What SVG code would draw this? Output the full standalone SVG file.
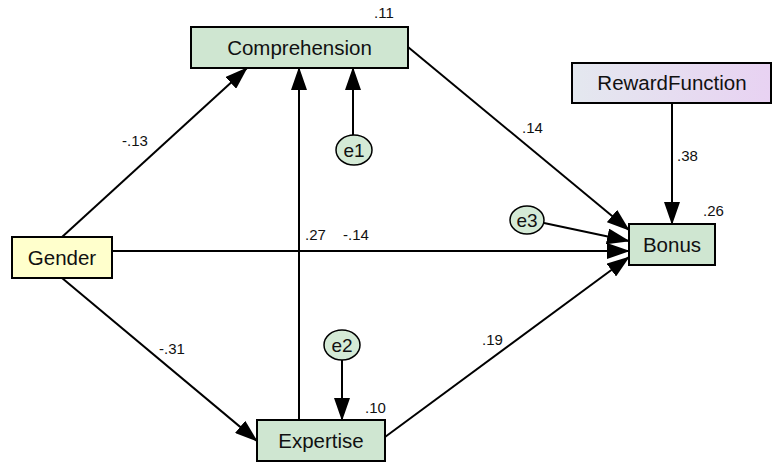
<svg xmlns="http://www.w3.org/2000/svg" width="773" height="463" viewBox="0 0 773 463">
  <style>
    .box { stroke: #000; stroke-width: 2; }
    .obs { fill: #cfe6d1; }
    .err { fill: #d4ead6; stroke: #000; stroke-width: 1.5; }
    .name { font-family: "Liberation Sans", Arial, sans-serif; font-size: 20.5px; fill: #111; text-anchor: middle; }
    .ename { font-family: "Liberation Sans", Arial, sans-serif; font-size: 19px; fill: #111; text-anchor: middle; }
    .val { font-family: "Liberation Sans", Arial, sans-serif; font-size: 15px; fill: #111; }
    .path { stroke: #000; stroke-width: 2; fill: none; marker-end: url(#head); }
  </style>
  <defs>
    <marker id="head" markerUnits="userSpaceOnUse" markerWidth="23" markerHeight="16" viewBox="0 0 23 16" refX="22" refY="8" orient="auto">
      <path d="M0,0 L23,8 L0,16 Z" fill="#000"/>
    </marker>
    <linearGradient id="rewardFill" x1="0" y1="0" x2="1" y2="0">
      <stop offset="0" stop-color="#e4e8ef"/>
      <stop offset="1" stop-color="#e8d2f2"/>
    </linearGradient>
  </defs>
  <rect width="773" height="463" fill="#fff"/>

  <!-- regression paths -->
  <g id="connectors">
    <line class="path" x1="62" y1="237" x2="247" y2="68"/>
    <line class="path" x1="62" y1="278" x2="257" y2="441"/>
    <line class="path" x1="112" y1="251" x2="629" y2="251"/>
    <line class="path" x1="408" y1="47" x2="629" y2="230"/>
    <line class="path" x1="544" y1="223" x2="629" y2="241"/>
    <line class="path" x1="385" y1="437" x2="629" y2="257"/>
    <line class="path" x1="299" y1="420" x2="299" y2="68"/>
    <line class="path" x1="353" y1="135" x2="353" y2="68"/>
    <line class="path" x1="342" y1="360" x2="342" y2="420"/>
    <line class="path" x1="672" y1="103" x2="672" y2="224"/>
  </g>

  <!-- path coefficients -->
  <g id="coefficients">
    <text class="val" x="122" y="146">-.13</text>
    <text class="val" x="522" y="133">.14</text>
    <text class="val" x="305" y="240">.27</text>
    <text class="val" x="343" y="240">-.14</text>
    <text class="val" x="159" y="354">-.31</text>
    <text class="val" x="482" y="345">.19</text>
    <text class="val" x="677" y="161">.38</text>
  </g>

  <g id="gender">
    <rect class="box" x="12" y="237" width="100" height="41" fill="#ffffcc"/>
    <text class="name" x="62" y="265">Gender</text>
  </g>

  <g id="comprehension">
    <rect class="box obs" x="191" y="27" width="217" height="41"/>
    <text class="name" x="299.5" y="55">Comprehension</text>
    <text class="val" x="374" y="18">.11</text>
  </g>

  <g id="expertise">
    <rect class="box obs" x="257" y="420" width="128" height="41"/>
    <text class="name" x="321" y="448">Expertise</text>
    <text class="val" x="365" y="413">.10</text>
  </g>

  <g id="reward-function">
    <rect class="box" x="572" y="63" width="199" height="40" fill="url(#rewardFill)"/>
    <text class="name" x="672" y="90">RewardFunction</text>
  </g>

  <g id="bonus">
    <rect class="box obs" x="629" y="224" width="86" height="41"/>
    <text class="name" x="672" y="252">Bonus</text>
    <text class="val" x="703" y="216">.26</text>
  </g>

  <g id="e1">
    <ellipse class="err" cx="354" cy="150" rx="18" ry="15"/>
    <text class="ename" x="354" y="157">e1</text>
  </g>

  <g id="e2">
    <ellipse class="err" cx="342" cy="345" rx="18" ry="15"/>
    <text class="ename" x="342" y="352">e2</text>
  </g>

  <g id="e3">
    <ellipse class="err" cx="527" cy="220" rx="17" ry="14"/>
    <text class="ename" x="527" y="227">e3</text>
  </g>
</svg>
